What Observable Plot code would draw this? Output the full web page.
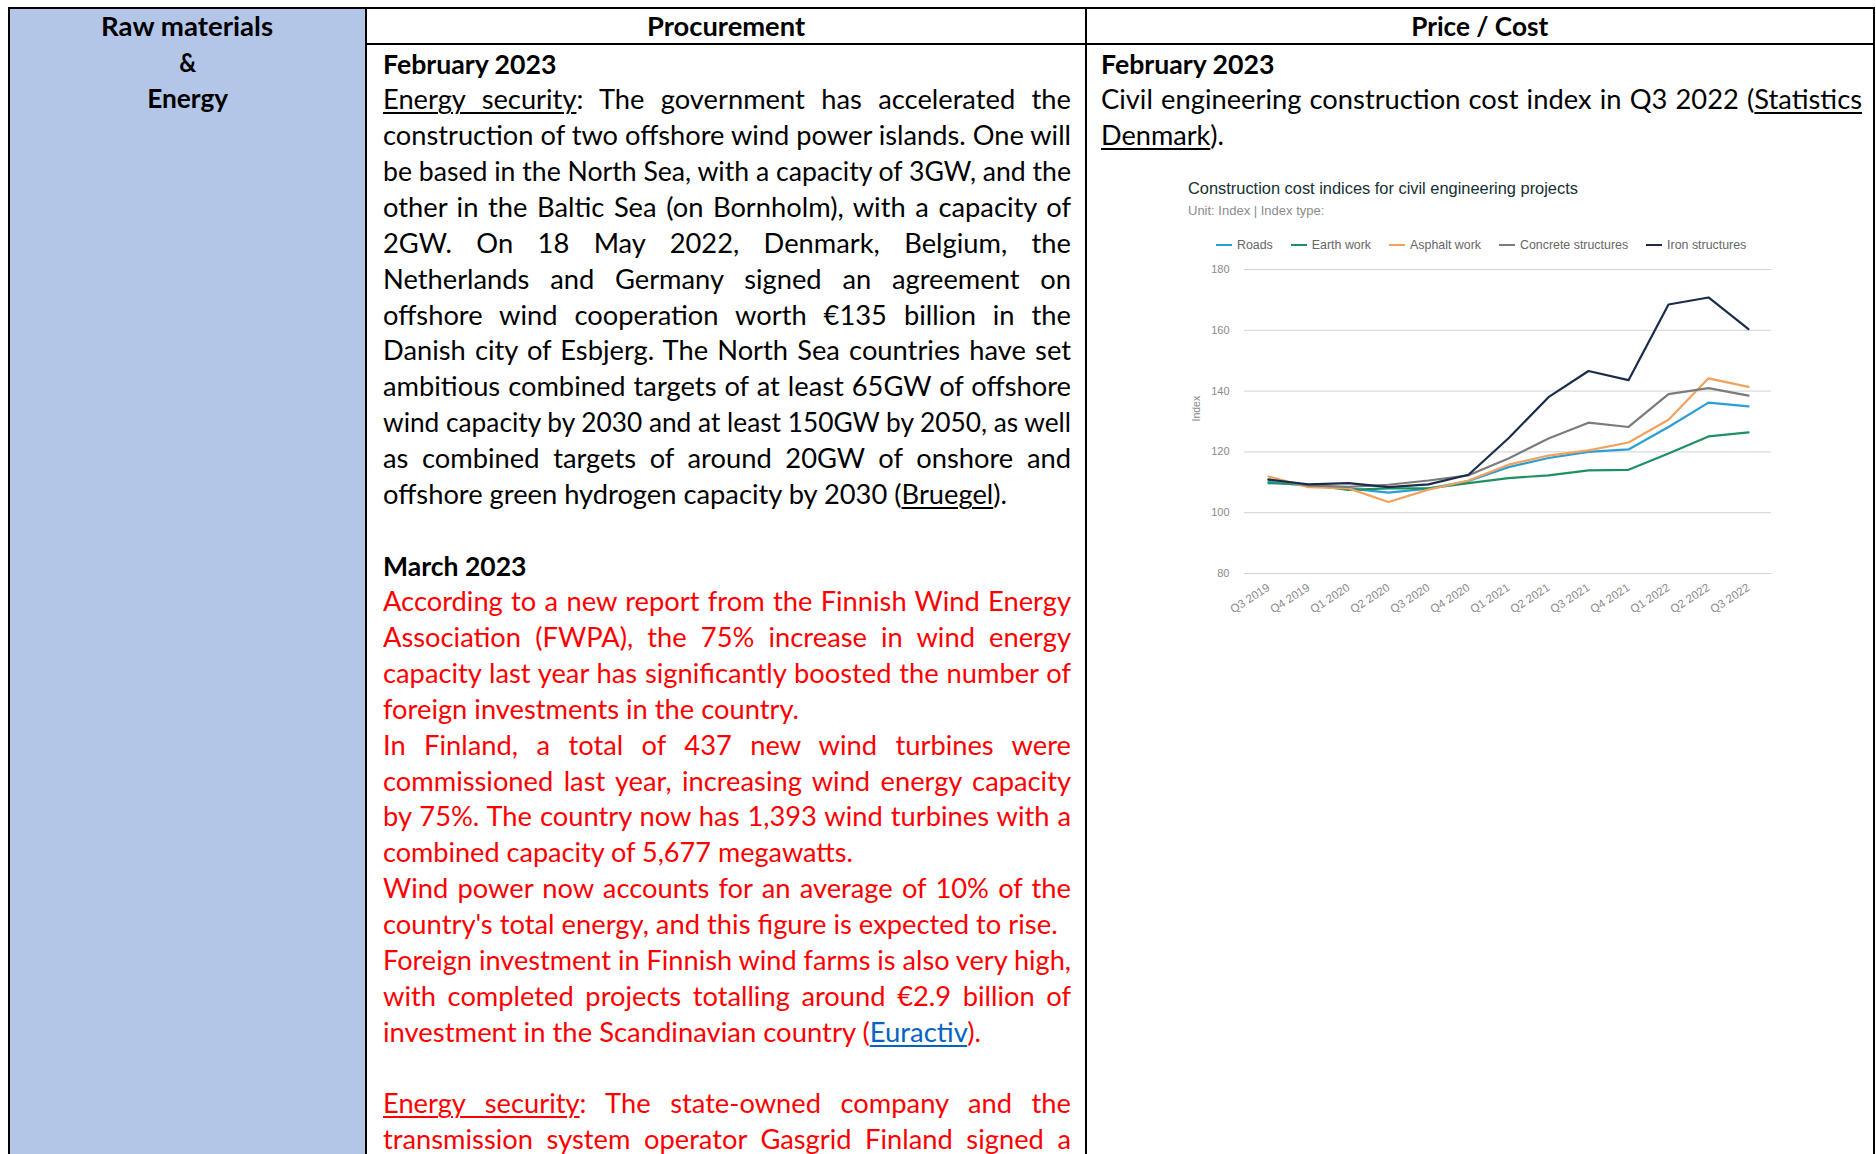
<!DOCTYPE html>
<html>
<head>
<meta charset="utf-8">
<script src="https://cdn.jsdelivr.net/npm/d3@7"></script>
<script src="https://cdn.jsdelivr.net/npm/@observablehq/plot@0.6"></script>
<style>
html,body{margin:0;padding:0;background:#fff;}
body{width:1876px;height:1154px;overflow:hidden;position:relative;font-family:Lato,"Noto Sans",sans-serif;color:#000;}
.fill{position:absolute;background:#b4c6e7;}
.blk{position:absolute;background:#000;}
.ln{position:absolute;height:35.85px;line-height:35.85px;font-size:27px;white-space:pre;}
.ln .t{display:inline-block;white-space:pre;transform-origin:left center;}
.ln.c{text-align:center;}
.ln.c .t{transform-origin:center center;}
.b{font-weight:bold;}
.red{color:#ff0000;}
u{text-decoration:underline;text-decoration-thickness:2px;text-underline-offset:3px;}
a{color:#0563c1;text-decoration:underline;text-decoration-thickness:2px;text-underline-offset:3px;}
#ctitle{position:absolute;left:1188px;top:178px;font:16.4px "Liberation Sans",Arial,sans-serif;color:#152f33;line-height:20px;white-space:nowrap;}
#csub{position:absolute;left:1188px;top:203px;font:13px "Liberation Sans",Arial,sans-serif;color:#8c8c8c;line-height:16px;white-space:nowrap;}
#clegend{position:absolute;left:1216px;top:238px;height:14px;display:flex;align-items:center;font:12.4px "Liberation Sans",Arial,sans-serif;color:#666;white-space:nowrap;}
#clegend .it{display:flex;align-items:center;margin-right:18px;}
#clegend .sw{width:16px;height:2.5px;margin-right:5px;}
#chart{position:absolute;left:1180px;top:255px;}
</style>
</head>
<body>
<div id="page"></div>
<div id="ctitle"></div>
<div id="csub"></div>
<div id="clegend"></div>
<div id="chart"></div>
<script>
// ---------- chart data ----------
const quarters = ["Q3 2019","Q4 2019","Q1 2020","Q2 2020","Q3 2020","Q4 2020","Q1 2021","Q2 2021","Q3 2021","Q4 2021","Q1 2022","Q2 2022","Q3 2022"];
const seriesNames = ["Roads","Earth work","Asphalt work","Concrete structures","Iron structures"];
const seriesColors = ["#2a9fd3","#1f9160","#f1a25e","#7b7b7b","#1b2b4b"];
const roads     = [110.2,108.8,108.0,106.6,107.9,110.4,115.0,118.0,120.0,120.8,128.2,136.2,135.0];
const earthWork = [109.7,109.2,107.5,108.0,108.0,109.7,111.4,112.3,113.9,114.1,119.5,125.1,126.4];
const asphalt   = [111.9,108.4,108.0,103.5,107.6,110.6,115.8,118.8,120.5,123.1,130.6,144.2,141.4];
const concrete  = [111.0,109.0,108.5,109.2,110.6,112.3,117.8,124.4,129.6,128.2,139.0,141.0,138.5];
const iron      = [110.9,109.3,109.7,108.4,109.3,112.5,124.5,138.0,146.6,143.6,168.5,170.8,160.4];
const yTicks = [80,100,120,140,160,180];
const chartTitle = "Construction cost indices for civil engineering projects";
const chartSubtitle = "Unit: Index | Index type:";
const yLabel = "Index";

// ---------- document text ----------
const col1Lines = [
  {h:"Raw materials", w:172},
  {h:"&", w:17},
  {h:"Energy", w:81}
];
const headerLines = [
  {h:"Procurement", w:158, col:2},
  {h:"Price / Cost", w:137, col:3}
];
const procurementLines = [
  {i:0, h:"February 2023", b:true, w:173.5},
  {i:1, h:"<u>Energy security</u>: The government has accelerated the", j:true},
  {i:2, h:"construction of two offshore wind power islands. One will", j:true},
  {i:3, h:"be based in the North Sea, with a capacity of 3GW, and the", j:true},
  {i:4, h:"other in the Baltic Sea (on Bornholm), with a capacity of", j:true},
  {i:5, h:"2GW. On 18 May 2022, Denmark, Belgium, the", j:true},
  {i:6, h:"Netherlands and Germany signed an agreement on", j:true},
  {i:7, h:"offshore wind cooperation worth €135 billion in the", j:true},
  {i:8, h:"Danish city of Esbjerg. The North Sea countries have set", j:true},
  {i:9, h:"ambitious combined targets of at least 65GW of offshore", j:true},
  {i:10, h:"wind capacity by 2030 and at least 150GW by 2050, as well", j:true},
  {i:11, h:"as combined targets of around 20GW of onshore and", j:true},
  {i:12, h:"offshore green hydrogen capacity by 2030 (<u>Bruegel</u>).", w:624},
  {i:14, h:"March 2023", b:true, w:143.5},
  {i:15, h:"According to a new report from the Finnish Wind Energy", j:true, red:true},
  {i:16, h:"Association (FWPA), the 75% increase in wind energy", j:true, red:true},
  {i:17, h:"capacity last year has significantly boosted the number of", j:true, red:true},
  {i:18, h:"foreign investments in the country.", red:true, w:416},
  {i:19, h:"In Finland, a total of 437 new wind turbines were", j:true, red:true},
  {i:20, h:"commissioned last year, increasing wind energy capacity", j:true, red:true},
  {i:21, h:"by 75%. The country now has 1,393 wind turbines with a", j:true, red:true},
  {i:22, h:"combined capacity of 5,677 megawatts.", red:true, w:470},
  {i:23, h:"Wind power now accounts for an average of 10% of the", j:true, red:true},
  {i:24, h:"country's total energy, and this figure is expected to rise.", red:true, w:674.6},
  {i:25, h:"Foreign investment in Finnish wind farms is also very high,", j:true, red:true},
  {i:26, h:"with completed projects totalling around €2.9 billion of", j:true, red:true},
  {i:27, h:"investment in the Scandinavian country (<a>Euractiv</a>).", red:true, w:598},
  {i:29, h:"<u>Energy security</u>: The state-owned company and the", j:true, red:true},
  {i:30, h:"transmission system operator Gasgrid Finland signed a", j:true, red:true}
];
const priceLines = [
  {i:0, h:"February 2023", b:true, w:173.5},
  {i:1, h:"Civil engineering construction cost index in Q3 2022 (<u>Statistics</u>", j:true},
  {i:2, h:"<u>Denmark</u>).", w:123}
];

// ---------- page frame ----------
const page = document.getElementById("page");
function box(cls, l, t, w, h) {
  const d = document.createElement("div");
  d.className = cls;
  Object.assign(d.style, {left:l+"px", top:t+"px", width:w+"px", height:h+"px"});
  page.appendChild(d);
  return d;
}
box("fill", 10, 9, 355, 1145);
box("blk", 8, 7, 1867, 2);
box("blk", 365, 43, 1510, 2);
[8, 365, 1085, 1873].forEach(x => box("blk", x, 7, 2, 1147));

const LH = 35.85;
const all = [];
function line(spec, left, width, top, centered) {
  const d = document.createElement("div");
  d.className = "ln" + (centered ? " c" : "") + (spec.b ? " b" : "") + (spec.red ? " red" : "");
  Object.assign(d.style, {left:left+"px", top:top+"px", width:width+"px"});
  const s = document.createElement("span");
  s.className = "t";
  s.innerHTML = spec.h;
  d.appendChild(s);
  page.appendChild(d);
  all.push({spec, span:s, W: spec.j ? width : spec.w});
}
col1Lines.forEach((l, k) => line(Object.assign({b:true}, l), 10, 355, 8.1 + k*LH, true));
headerLines.forEach(l => {
  if (l.col === 2) line(Object.assign({b:true}, l), 367, 718, 8.1, true);
  else line(Object.assign({b:true}, l), 1087, 786, 8.1, true);
});
procurementLines.forEach(l => line(l, 383, 688, 45.6 + l.i*LH, false));
priceLines.forEach(l => line(l, 1101, 761, 45.6 + l.i*LH, false));

function layoutText() {
  const ratios = [];
  all.forEach(o => { o.nat = o.span.getBoundingClientRect().width; if (!o.spec.j && !o.spec.b) ratios.push(o.W / o.nat); });
  ratios.sort((a,b)=>a-b);
  const G = ratios.length ? ratios[Math.floor(ratios.length/2)] : 0.92;
  all.forEach(o => {
    if (o.spec.j) {
      const n = (o.span.textContent.match(/ /g) || []).length;
      const target = o.W / G;
      if (o.nat < target && n > 0) {
        o.span.style.wordSpacing = ((target - o.nat) / n) + "px";
        o.span.style.transform = `scaleX(${G})`;
      } else {
        o.span.style.transform = `scaleX(${o.W / o.nat})`;
      }
    } else {
      o.span.style.transform = `scaleX(${o.W / o.nat})`;
    }
  });
}

// ---------- chart ----------
document.getElementById("ctitle").textContent = chartTitle;
document.getElementById("csub").textContent = chartSubtitle;
const leg = document.getElementById("clegend");
seriesNames.forEach((n, k) => {
  const it = document.createElement("div");
  it.className = "it";
  it.innerHTML = `<div class="sw" style="background:${seriesColors[k]}"></div><span>${n}</span>`;
  leg.appendChild(it);
});

const seriesValues = [roads, earthWork, asphalt, concrete, iron];
const rows = [];
seriesNames.forEach((name, k) => quarters.forEach((q, i) => rows.push({series:name, quarter:q, value:seriesValues[k][i]})));

const chart = Plot.plot({
  width: 611,
  height: 368,
  marginTop: 14,
  marginBottom: 50,
  marginLeft: 64,
  marginRight: 20,
  style: {fontFamily: "'Liberation Sans', Arial, sans-serif", fontSize: "11.5px", color: "#8a8a8a", background: "transparent", overflow: "visible"},
  x: {type: "point", domain: quarters, padding: 0.5, label: null},
  y: {domain: [80, 180], label: null},
  color: {domain: seriesNames, range: seriesColors},
  marks: [
    Plot.ruleY(yTicks, {stroke: "#d2d2d2", strokeWidth: 1}),
    Plot.axisY(yTicks, {tickSize: 0, tickPadding: 15, label: null, fill: "#8a8a8a", fontSize: 11}),
    Plot.axisX({tickSize: 0, tickPadding: 13, tickRotate: -33, label: null, fill: "#8a8a8a", fontSize: 11.5}),
    Plot.lineY(rows, {x: "quarter", y: "value", z: "series", stroke: "series", strokeWidth: 2.2, strokeLinejoin: "round"}),
    Plot.text([yLabel], {frameAnchor: "left", dx: -48, rotate: -90, fill: "#8a8a8a", fontSize: 10.5})
  ]
});
document.getElementById("chart").appendChild(chart);

if (document.fonts && document.fonts.ready) document.fonts.ready.then(layoutText); else layoutText();
</script>
</body>
</html>
